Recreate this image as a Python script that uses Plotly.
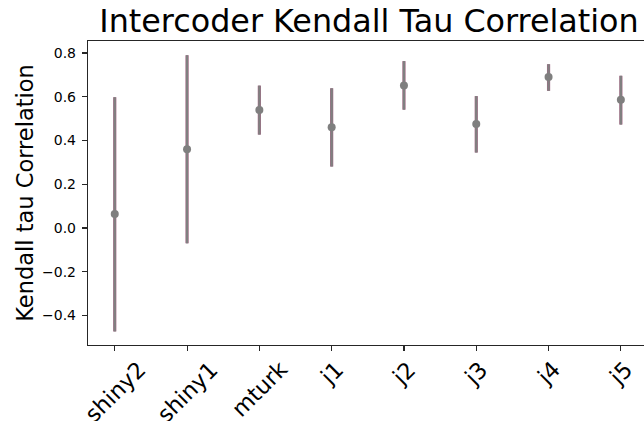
import plotly.graph_objects as go

categories = ["shiny2", "shiny1", "mturk", "j1", "j2", "j3", "j4", "j5"]
tau_mean = [0.064, 0.360, 0.540, 0.461, 0.651, 0.476, 0.690, 0.586]
ci_upper = [0.598, 0.790, 0.651, 0.639, 0.763, 0.603, 0.749, 0.696]
ci_lower = [-0.473, -0.070, 0.427, 0.281, 0.541, 0.345, 0.627, 0.473]
y_ticks = [-0.4, -0.2, 0.0, 0.2, 0.4, 0.6, 0.8]
y_ticklabels = ["\u22120.4", "\u22120.2", "0.0", "0.2", "0.4", "0.6", "0.8"]

xs = list(range(len(categories)))
err_plus = [u - m for u, m in zip(ci_upper, tau_mean)]
err_minus = [m - l for m, l in zip(tau_mean, ci_lower)]

fig = go.Figure()
# pinkish underlay of error bars
fig.add_trace(go.Scatter(
    x=xs, y=tau_mean, mode="markers",
    marker=dict(size=1, color="rgba(0,0,0,0)"),
    error_y=dict(type="data", symmetric=False, array=err_plus, arrayminus=err_minus,
                 color="#a26884", thickness=3.2, width=0),
    showlegend=False, hoverinfo="skip"))
# grey error bars and points
fig.add_trace(go.Scatter(
    x=xs, y=tau_mean, mode="markers",
    marker=dict(size=8, color="#7f7f7f"),
    error_y=dict(type="data", symmetric=False, array=err_plus, arrayminus=err_minus,
                 color="#808080", thickness=2.2, width=0),
    showlegend=False))

# rotated category labels, centred under each tick (matplotlib style)
for x, lab in zip(xs, categories):
    fig.add_annotation(
        x=x, xref="x", y=0, yref="paper", text=lab, showarrow=False,
        textangle=-45, xanchor="center", yanchor="top", yshift=-10,
        borderpad=0, font=dict(family="DejaVu Sans", size=22.5, color="#000000"))

W, H = 644, 421
fig.update_layout(
    width=W, height=H,
    margin=dict(l=88, r=0, t=41, b=76),
    paper_bgcolor="white", plot_bgcolor="white",
    hovermode=False,
    font=dict(family="DejaVu Sans", color="#000000"),
    title=dict(text="Intercoder Kendall Tau Correlation",
               font=dict(family="DejaVu Sans", size=31.8, color="#000000"),
               x=(369 - 88) / 556, xref="paper", xanchor="center",
               y=1 - 21 / H, yref="container", yanchor="middle"),
)
fig.update_xaxes(
    range=[-0.37, 7.32], tickmode="array", tickvals=xs, ticktext=["" for _ in xs],
    showgrid=False, zeroline=False, automargin=False,
    showline=True, linecolor="#262626", linewidth=1.2, mirror=True,
    ticks="outside", ticklen=5, tickcolor="#262626", tickwidth=1.1,
)
fig.update_yaxes(
    range=[-0.535, 0.855], tickmode="array",
    tickvals=y_ticks, ticktext=y_ticklabels,
    tickfont=dict(size=14, family="DejaVu Sans"), ticklabelstandoff=3,
    title=dict(text="Kendall tau Correlation", font=dict(size=22.5, family="DejaVu Sans"), standoff=2),
    showgrid=False, zeroline=False, automargin=False,
    showline=True, linecolor="#262626", linewidth=1.2, mirror=False,
    ticks="outside", ticklen=5, tickcolor="#262626", tickwidth=1.1,
)

fig.write_html("out.html",
               config={"displayModeBar": False, "staticPlot": True},
               post_script="document.body.style.margin='0';document.body.style.overflow='hidden';")
